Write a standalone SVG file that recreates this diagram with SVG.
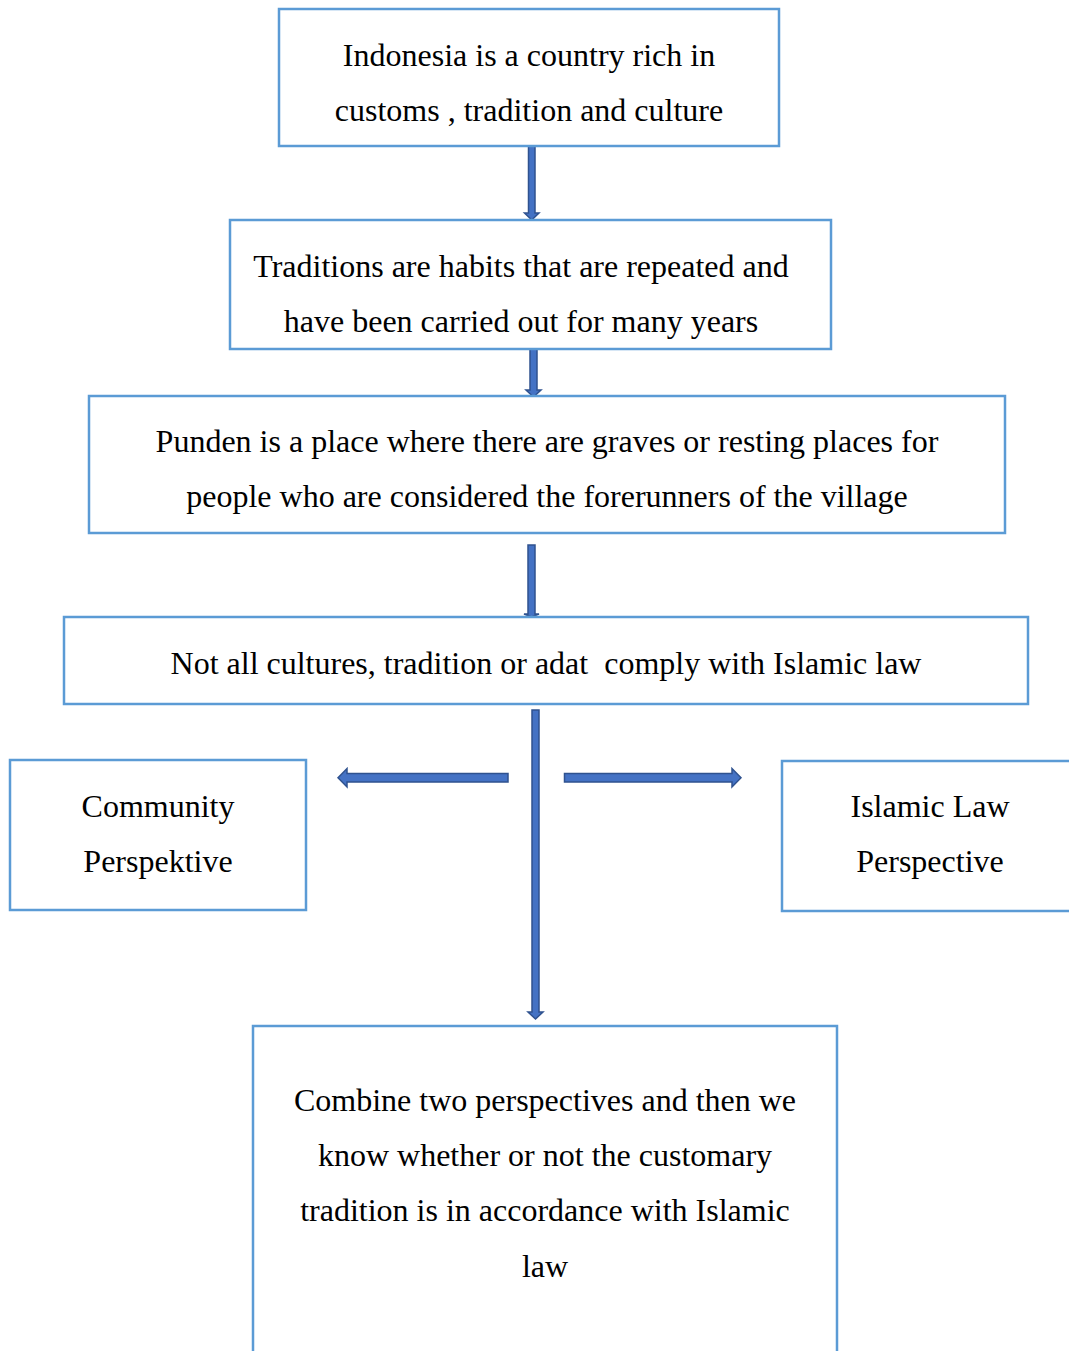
<svg xmlns="http://www.w3.org/2000/svg" width="1069" height="1351" viewBox="0 0 1069 1351">
<style>
.box{fill:#fff;stroke:#5B9BD5;stroke-width:2.5}
.t{font-family:"Liberation Serif","Times New Roman",serif;font-size:32px;fill:#000;text-anchor:middle}
.arr{fill:#4472C4;stroke:#2F528F;stroke-width:1.5;stroke-linejoin:miter}
</style>
<rect width="1069" height="1351" fill="#fff"/>
<g id="connectors">
<path class="arr" d="M528.5,146 H535 V213 H539 L531.75,220 L524.5,213 H528.5 Z"/>
<path class="arr" d="M530,349 H537 V390 H541 L533.5,397 L526,390 H530 Z"/>
<path class="arr" d="M528,545 H535 V614 H539 L531.5,617 L524,614 H528 Z"/>
<path class="arr" d="M532,710 H539 V1012 H543 L535.5,1019 L528,1012 H532 Z"/>
<path class="arr" d="M508,773.5 V782 H347 V787 L338,777.75 L347,768.5 V773.5 Z"/>
<path class="arr" d="M564.5,773.5 V782 H732 V787 L741,777.75 L732,768.5 V773.5 Z"/>
</g>
<g id="n1">
<rect class="box" x="279" y="9" width="500" height="137"/>
<text class="t" x="529" y="66">Indonesia is a country rich in</text>
<text class="t" x="529" y="121">customs , tradition and culture</text>
</g>
<g id="n2">
<rect class="box" x="230" y="220" width="601" height="129"/>
<text class="t" x="521" y="277">Traditions are habits that are repeated and</text>
<text class="t" x="521" y="332">have been carried out for many years</text>
</g>
<g id="n3">
<rect class="box" x="89" y="396" width="916" height="137"/>
<text class="t" x="547" y="452">Punden is a place where there are graves or resting places for</text>
<text class="t" x="547" y="507">people who are considered the forerunners of the village</text>
</g>
<g id="n4">
<rect class="box" x="64" y="617" width="964" height="87"/>
<text class="t" x="546" y="674" xml:space="preserve">Not all cultures, tradition or adat  comply with Islamic law</text>
</g>
<g id="n5">
<rect class="box" x="10" y="760" width="296" height="150"/>
<text class="t" x="158" y="817">Community</text>
<text class="t" x="158" y="872">Perspektive</text>
</g>
<g id="n6">
<rect class="box" x="782" y="761" width="300" height="150"/>
<text class="t" x="930" y="817">Islamic Law</text>
<text class="t" x="930" y="872">Perspective</text>
</g>
<g id="n7">
<rect class="box" x="253" y="1026" width="584" height="340"/>
<text class="t" x="545" y="1111">Combine two perspectives and then we</text>
<text class="t" x="545" y="1166">know whether or not the customary</text>
<text class="t" x="545" y="1221">tradition is in accordance with Islamic</text>
<text class="t" x="545" y="1277">law</text>
</g>
</svg>
